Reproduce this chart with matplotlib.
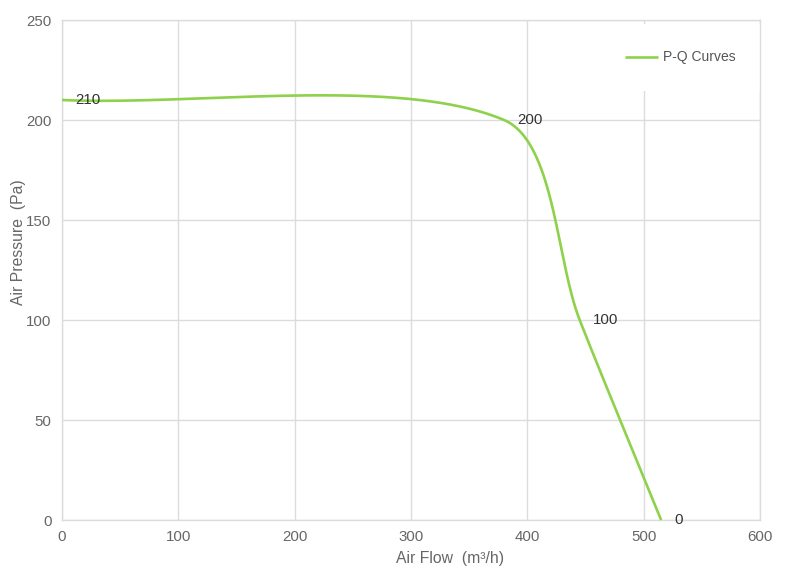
import numpy as np
import matplotlib
matplotlib.use("Agg")
import matplotlib.pyplot as plt

# ---- data ----
flow = [0, 380, 445, 515]          # Air Flow (m³/h)
pressure = [210, 200, 100, 0]      # Air Pressure (Pa)
x_ticks = [0, 100, 200, 300, 400, 500, 600]
y_ticks = [0, 50, 100, 150, 200, 250]
series_name = "P-Q Curves"
x_title = "Air Flow  (m³/h)"
y_title = "Air Pressure  (Pa)"

LINE = "#8ed14b"
GRID = "#dcdcdc"
TICK = "#666666"

plt.rcParams['font.family'] = ['Liberation Sans', 'DejaVu Sans']

fig = plt.figure(figsize=(8.0, 5.74), dpi=100)
ax = fig.add_axes([62/800, 1-520/574, 698/800, 500/574])
ax.set_xlim(0, 600)
ax.set_ylim(0, 250)
ax.set_xticks(x_ticks)
ax.set_yticks(y_ticks)
ax.grid(True, color=GRID, linewidth=1.0)
ax.set_axisbelow(True)
for s in ax.spines.values():
    s.set_color(GRID)
    s.set_linewidth(1.0)
ax.tick_params(length=0, colors=TICK, labelsize=10.8)
ax.tick_params(axis='x', pad=7.5)
ax.tick_params(axis='y', pad=7.5)

# spline through the points (cardinal-style tension), computed in display space
def smooth_path(xs, ys, tension=0.3, n=200):
    pts = ax.transData.transform(np.column_stack([xs, ys]))
    m = len(pts)
    cp_in = [None] * m
    cp_out = [None] * m
    for i in range(m):
        prev = pts[i - 1] if i > 0 else pts[i]
        nxt = pts[i + 1] if i < m - 1 else pts[i]
        d01 = np.linalg.norm(pts[i] - prev)
        d12 = np.linalg.norm(nxt - pts[i])
        s01 = d01 / (d01 + d12)
        s12 = d12 / (d01 + d12)
        cp_in[i] = pts[i] - tension * s01 * (nxt - prev)
        cp_out[i] = pts[i] + tension * s12 * (nxt - prev)
    t = np.linspace(0, 1, n)[:, None]
    segs = []
    for i in range(m - 1):
        p0, p1, p2, p3 = pts[i], cp_out[i], cp_in[i + 1], pts[i + 1]
        b = ((1 - t) ** 3) * p0 + 3 * ((1 - t) ** 2) * t * p1 + 3 * (1 - t) * t ** 2 * p2 + t ** 3 * p3
        segs.append(b)
    allp = np.vstack(segs)
    data = ax.transData.inverted().transform(allp)
    return data[:, 0], data[:, 1]

sx, sy = smooth_path(flow, pressure)
ax.plot(sx, sy, color=LINE, linewidth=1.9, label=series_name, clip_on=False,
        solid_capstyle='butt', zorder=3)

for xv, yv in zip(flow, pressure):
    ax.annotate(str(yv), (xv, yv), xytext=(9.5, 0), textcoords='offset points',
                ha='left', va='center', fontsize=10.8, color='#333333', zorder=4)

ax.set_xlabel(x_title, fontsize=11.3, color=TICK)
ax.set_ylabel(y_title, fontsize=11.3, color=TICK)
ax.xaxis.set_label_coords(0.556, -0.061)
ax.yaxis.set_label_coords(-0.052, 0.556)

leg = ax.legend(loc='center left', bbox_to_anchor=((625 - 26.4) / 800, 1 - 57.5 / 574),
                bbox_transform=fig.transFigure, fontsize=10, frameon=True,
                borderaxespad=0, borderpad=1.9, handlelength=2.35, handletextpad=0.4)
leg.get_frame().set_facecolor('white')
leg.get_frame().set_edgecolor('none')
leg.get_frame().set_alpha(1.0)
leg.set_zorder(2.2)
for t in leg.get_texts():
    t.set_color('#555555')

fig.savefig("out.png", dpi=100)
